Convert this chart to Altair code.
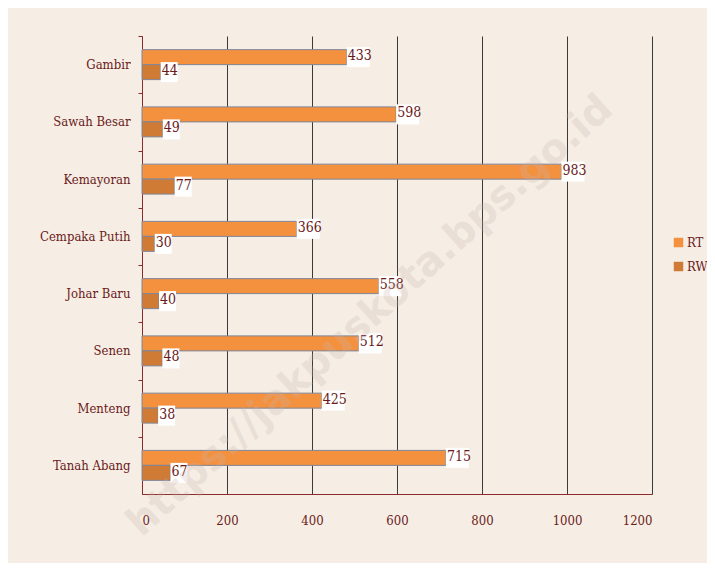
import altair as alt
import pandas as pd

districts = ["Gambir", "Sawah Besar", "Kemayoran", "Cempaka Putih",
             "Johar Baru", "Senen", "Menteng", "Tanah Abang"]
rt_labels = [433, 598, 983, 366, 558, 512, 425, 715]
rt_bars = [482, 598, 987, 364, 557, 510, 423, 715]
rw_labels = [44, 49, 77, 30, 40, 48, 38, 67]
series = ["RT", "RW"]
x_ticks = [0, 200, 400, 600, 800, 1000, 1200]

rows = []
for i, d in enumerate(districts):
    rows.append({"kec": d, "seri": "RT", "nilai": rt_bars[i], "label": str(rt_labels[i])})
    rows.append({"kec": d, "seri": "RW", "nilai": rw_labels[i], "label": str(rw_labels[i])})
df = pd.DataFrame(rows)
df["digits"] = df["label"].str.len().astype(str)

FONT = "DejaVu Serif Condensed"
TXT = "#6B1A1A"
AXC = "#8B2B2B"

y = alt.Y("kec:N", sort=districts, title=None,
          scale=alt.Scale(paddingInner=0.476, paddingOuter=0.238),
          axis=alt.Axis(domainColor=AXC, tickColor=AXC, tickSize=4,
                        tickOffset=-28.6, labelOffset=28.6, labelPadding=8,
                        labelFont=FONT, labelFontSize=13, labelColor=TXT))
yoff = alt.YOffset("seri:N", sort=series, scale=alt.Scale(paddingInner=0, paddingOuter=0))
x = alt.X("nilai:Q", title=None,
          scale=alt.Scale(domain=[0, 1200], nice=False),
          axis=alt.Axis(values=x_ticks, format="d", grid=True, gridColor="#3a3a3a", gridWidth=1,
                        domainColor=AXC, ticks=False, labelPadding=20,
                        labelFont=FONT, labelFontSize=13, labelColor=TXT))

color = alt.Color("seri:N", sort=series,
                  scale=alt.Scale(domain=series, range=["#F4913F", "#CF7B36"]),
                  legend=alt.Legend(title=None, orient="none", legendX=530, legendY=200,
                                    symbolType="square", symbolSize=90, labelOffset=2,
                                    symbolStrokeWidth=0, rowPadding=10,
                                    labelFont=FONT, labelFontSize=13, labelColor=TXT))

bars = alt.Chart(df).mark_bar(stroke="#7E8699", strokeWidth=1).encode(
    x=x, y=y, yOffset=yoff, color=color)

boxes = alt.Chart(df).mark_point(filled=True, color="white", opacity=1, size=400).encode(
    x=alt.X("nilai:Q"), y=alt.Y("kec:N", sort=districts), yOffset=yoff,
    shape=alt.Shape("digits:N", legend=None,
                    scale=alt.Scale(domain=["2", "3"],
                                    range=["M0,-1h1.7v2h-1.7z", "M0,-1h2.3v2h-2.3z"])))

labels = alt.Chart(df).mark_text(align="left", baseline="middle", dx=1, dy=-1,
                                 font=FONT, fontSize=14, color=TXT).encode(
    x=alt.X("nilai:Q"), y=alt.Y("kec:N", sort=districts), yOffset=yoff, text="label:N")

wm = alt.Chart(pd.DataFrame({"t": ["https://jakpuskota.bps.go.id"]})).mark_text(
    angle=318, font="DejaVu Sans", fontSize=40, fontWeight="bold",
    color="#C9B3AA", opacity=0.25).encode(
    x=alt.value(228), y=alt.value(280), text="t:N")

chart = alt.layer(bars, boxes, labels, wm).properties(
    width=510, height=458,
    autosize=alt.AutoSizeParams(type="none"),
    padding={"left": 134, "top": 28, "right": 55, "bottom": 69},
    background="#F6EEE5",
).configure_view(stroke=None).resolve_scale(shape="independent")

chart.save("out.html", embed_options={"renderer": "svg", "actions": False})
